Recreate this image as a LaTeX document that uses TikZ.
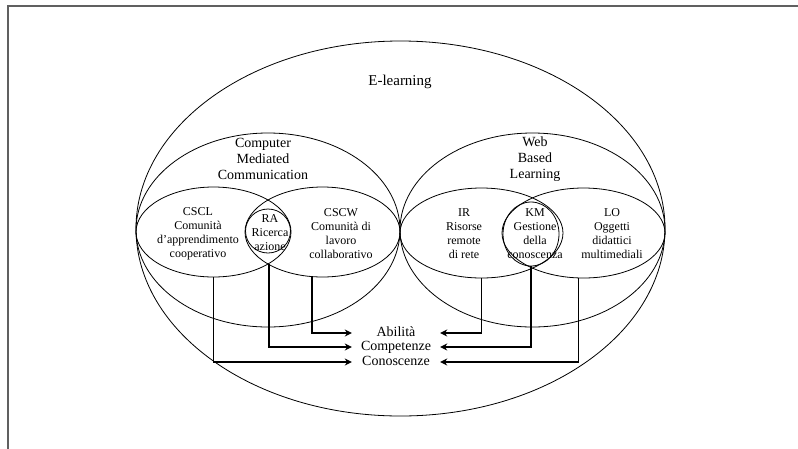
\documentclass[tikz,border=0pt]{standalone}
\usepackage{fontspec}
\setmainfont{Liberation Serif}
\usetikzlibrary{shapes.geometric,arrows.meta}

\begin{document}
\begin{tikzpicture}[x=1pt,y=-1pt,
  zone/.style={draw,ellipse,line width=0.8pt,inner sep=0pt},
  lbl/.style={align=center,inner sep=0pt,font=\fontsize{12}{14}\selectfont},
  skill/.style={inner sep=0pt,minimum width=88pt,text height=9.5pt,text depth=3pt,font=\fontsize{14}{14.5}\selectfont},
  link/.style={line width=1.4pt,-{Stealth[length=7pt,width=7pt]}}]
\useasboundingbox (0,0) rectangle (798,448);
\clip (0,0) rectangle (798,448);
\draw[gray!75!black,line width=1.2pt] (8,460) |- (810,6);

\node[zone,minimum width=529pt,minimum height=375pt] (elearn) at (400.5,228.5){};
\node[zone,minimum width=264pt,minimum height=194pt] (cmc) at (268,230){};
\node[zone,minimum width=265pt,minimum height=194pt] (wbl) at (532.5,230){};
\node[zone,minimum width=155pt,minimum height=90pt] (cscl) at (213.5,232){};
\node[zone,minimum width=155pt,minimum height=90pt] (cscw) at (322.5,232){};
\node[zone,minimum width=45pt,minimum height=44pt] (ra) at (268,231){};
\node[zone,minimum width=163pt,minimum height=90pt] (ir) at (481.5,233){};
\node[zone,minimum width=163pt,minimum height=90pt] (lo) at (583.5,233){};
\node[zone,minimum width=56pt,minimum height=64pt] (km) at (531,234){};

\node[lbl,font=\fontsize{15}{17}\selectfont] (telearn) at (400,82){E-learning};
\node[lbl,font=\fontsize{14}{16}\selectfont] (tcmc) at (263,159){Computer\\Mediated\\Communication};
\node[lbl,font=\fontsize{14}{16}\selectfont] (twbl) at (535,159){Web\\Based\\Learning};
\node[lbl] (tcscl) at (198,234){CSCL\\Comunità\\d’apprendimento\\cooperativo};
\node[lbl] (tra) at (270,233){RA\\Ricerca\\azione};
\node[lbl] (tcscw) at (341,234){CSCW\\Comunità di\\lavoro\\collaborativo};
\node[lbl] (tir) at (464,234){IR\\Risorse\\remote\\di rete};
\node[lbl] (tkm) at (535,234){KM\\Gestione\\della\\conoscenza};
\node[lbl] (tlo) at (612,234){LO\\Oggetti\\didattici\\multimediali};

\node[skill] (abil) at (396,333){Abilità};
\node[skill] (comp) at (396,347){Competenze};
\node[skill] (conosc) at (396,362){Conoscenze};

\coordinate (ralow) at (269,264);
\draw[link] (cscl.south) |- (conosc.west);
\draw[link] (ralow) |- (comp.west);
\draw[link] (cscw.257) |- (abil.west);
\draw[link] (ir.south) |- (abil.east);
\draw[link] (km.south) |- (comp.east);
\draw[link] (lo.264) |- (conosc.east);
\end{tikzpicture}
\end{document}
